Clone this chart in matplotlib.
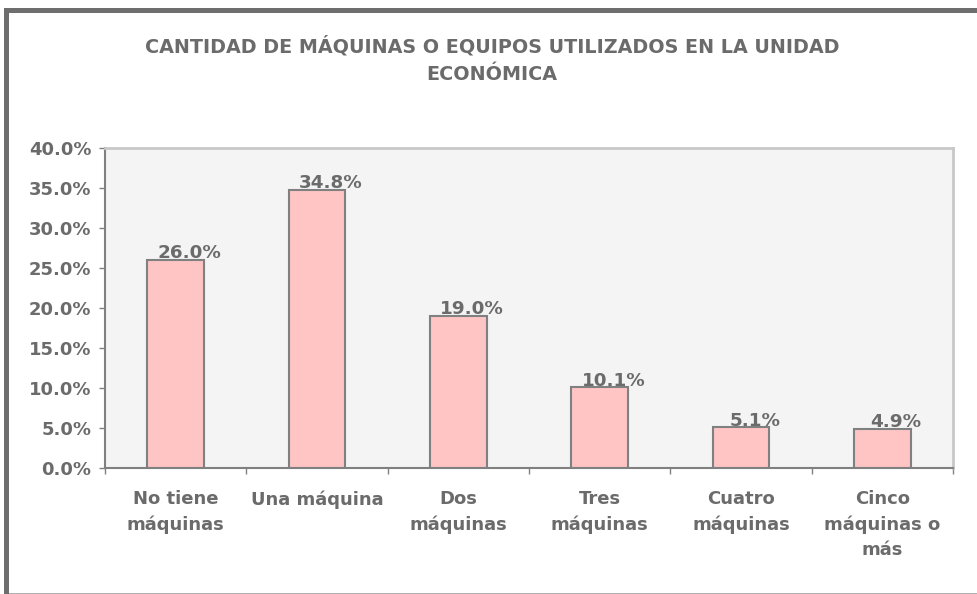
import matplotlib
matplotlib.use("Agg")
import matplotlib.pyplot as plt
from matplotlib.patches import Rectangle
from matplotlib.ticker import FuncFormatter, FixedLocator

# datos
categorias = ["No tiene\nmáquinas", "Una máquina", "Dos\nmáquinas", "Tres\nmáquinas",
              "Cuatro\nmáquinas", "Cinco\nmáquinas o\nmás"]
valores = [0.260, 0.348, 0.190, 0.101, 0.051, 0.049]
titulo = "CANTIDAD DE MÁQUINAS O EQUIPOS UTILIZADOS EN LA UNIDAD\nECONÓMICA"

gris_texto = "#6b6b6b"
gris_eje = "#808080"
W, H = 977, 594

plt.rcParams["font.family"] = "DejaVu Sans"
plt.rcParams["font.weight"] = "bold"

fig = plt.figure(figsize=(W / 100, H / 100), dpi=100)

# marco exterior
fig.add_artist(Rectangle((4 / W, 0), 5 / W, (H - 8) / H, transform=fig.transFigure,
                         color="#6e6e6e", lw=0))
fig.add_artist(Rectangle((4 / W, (H - 13) / H), (W - 4) / W, 5 / H, transform=fig.transFigure,
                         color="#6e6e6e", lw=0))
fig.add_artist(Rectangle((9 / W, 0), (W - 9) / W, 1.5 / H, transform=fig.transFigure,
                         color="#b0b0b0", lw=0))

ax = fig.add_axes([105 / W, (H - 468) / H, 848 / W, 320 / H])
ax.set_facecolor("#f4f4f4")

x = list(range(len(valores)))
ax.bar(x, valores, width=0.4, color="#ffc5c5", edgecolor=gris_eje, linewidth=1.5, zorder=2)

for xi, v in zip(x, valores):
    ax.annotate(f"{v:.1%}", (xi, v), xytext=(10, 1.2), textcoords="offset points",
                ha="center", va="baseline", fontsize=13.2, color=gris_texto, fontweight="bold")

ax.set_xlim(-0.5, 5.5)
ax.set_ylim(0, 0.40)
ax.set_yticks([i * 0.05 for i in range(9)])
ax.yaxis.set_major_formatter(FuncFormatter(lambda v, p: f"{v:.1%}"))
ax.tick_params(axis="y", length=4.3, width=1, color=gris_eje, pad=5.5,
               labelsize=13, labelcolor=gris_texto)

ax.xaxis.set_major_locator(FixedLocator([i - 0.5 for i in range(7)]))
ax.xaxis.set_minor_locator(FixedLocator(x))
ax.set_xticklabels([], minor=False)
ax.set_xticklabels(categorias, minor=True, fontsize=13, color=gris_texto,
                   fontweight="bold", linespacing=1.5, va="top")
ax.tick_params(axis="x", which="major", length=4.3, width=1, color=gris_eje)
ax.tick_params(axis="x", which="minor", length=0, pad=16)

for s in ["left", "bottom"]:
    ax.spines[s].set_color(gris_eje)
    ax.spines[s].set_linewidth(1.5)
for s in ["top", "right"]:
    ax.spines[s].set_color("#c8c8c8")
    ax.spines[s].set_linewidth(2)

fig.text(492 / W, (H - 36) / H, titulo, ha="center", va="top", fontsize=13.8,
         color=gris_texto, fontweight="bold", linespacing=1.55)

fig.savefig("out.png", dpi=100)
